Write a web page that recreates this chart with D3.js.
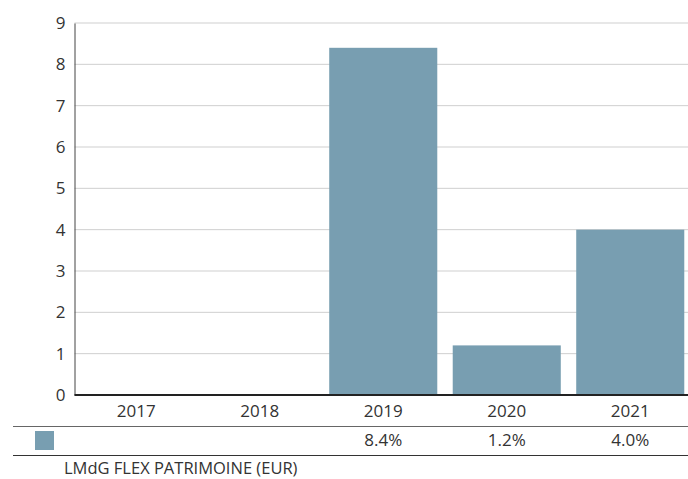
<!DOCTYPE html>
<html>
<head>
<meta charset="utf-8">
<script src="https://cdn.jsdelivr.net/npm/d3@7"></script>
<style>
  body { margin: 0; background: #fff; }
  svg text { font-family: "Open Sans", "Noto Sans", sans-serif; fill: #333; }
</style>
</head>
<body>
<div id="box-div"></div>
<script>
const years = ['2017', '2018', '2019', '2020', '2021']
const values = [null, null, 8.4, 1.2, 4.0]
const yTicks = [0, 1, 2, 3, 4, 5, 6, 7, 8, 9]
const seriesName = 'LMdG FLEX PATRIMOINE (EUR)'

let dms = {
    width: 688,
    height: 479,
    plotLeft: 74.5,
    plotRight: 692,
    plotTop: 23,
    plotBottom: 395
}

const box = d3.select('#box-div').append('svg')
    .attr('width', dms.width)
    .attr('height', dms.height)

const xScale = d3.scaleBand()
    .domain(years)
    .range([dms.plotLeft, dms.plotRight])
    .paddingInner(0.125)
    .paddingOuter(0.0625)

const yScale = d3.scaleLinear()
    .domain([0, 9])
    .range([dms.plotBottom, dms.plotTop])

// grid
box.append('g')
    .selectAll('line')
    .data(yTicks.filter(d => d > 0))
    .join('line')
    .attr('x1', dms.plotLeft)
    .attr('x2', dms.width)
    .attr('y1', d => yScale(d))
    .attr('y2', d => yScale(d))
    .attr('stroke', '#cfcfcf')
    .attr('stroke-width', 1)

// bars
box.append('g')
    .selectAll('rect')
    .data(years.map((y, i) => ({ year: y, v: values[i] })).filter(d => d.v != null))
    .join('rect')
    .attr('x', d => xScale(d.year))
    .attr('width', xScale.bandwidth())
    .attr('y', d => yScale(d.v))
    .attr('height', d => yScale(0) - yScale(d.v))
    .attr('fill', '#789eb1')

// y axis
const yAxis = box.append('g')
    .attr('transform', `translate(${dms.plotLeft},0)`)
    .call(d3.axisLeft(yScale).tickValues(yTicks).tickSize(0).tickPadding(9))
yAxis.select('.domain').attr('stroke', '#444')
yAxis.selectAll('text').style('font-size', '17px').attr('fill', '#333')

// x baseline
box.append('line')
    .attr('x1', dms.plotLeft)
    .attr('x2', dms.width)
    .attr('y1', yScale(0))
    .attr('y2', yScale(0))
    .attr('stroke', '#222')
    .attr('stroke-width', 2)

// x labels
box.append('g')
    .selectAll('text')
    .data(years)
    .join('text')
    .attr('x', d => xScale(d) + xScale.bandwidth() / 2)
    .attr('y', 417)
    .attr('text-anchor', 'middle')
    .style('font-size', '17px')
    .text(d => d)

// table lines
box.append('line')
    .attr('x1', 13).attr('x2', dms.width)
    .attr('y1', 426.5).attr('y2', 426.5)
    .attr('stroke', '#666').attr('stroke-width', 1)
box.append('line')
    .attr('x1', 13).attr('x2', dms.width)
    .attr('y1', 455.5).attr('y2', 455.5)
    .attr('stroke', '#333').attr('stroke-width', 1)

// legend swatch
box.append('rect')
    .attr('x', 35).attr('y', 431)
    .attr('width', 19).attr('height', 19)
    .attr('fill', '#789eb1')

// percentages
box.append('g')
    .selectAll('text')
    .data(years.map((y, i) => ({ year: y, v: values[i] })).filter(d => d.v != null))
    .join('text')
    .attr('x', d => xScale(d.year) + xScale.bandwidth() / 2)
    .attr('y', 446)
    .attr('text-anchor', 'middle')
    .style('font-size', '17px')
    .text(d => d.v.toFixed(1) + '%')

box.append('text')
    .attr('x', 64)
    .attr('y', 474)
    .style('font-size', '16.5px')
    .text(seriesName)
</script>
</body>
</html>
